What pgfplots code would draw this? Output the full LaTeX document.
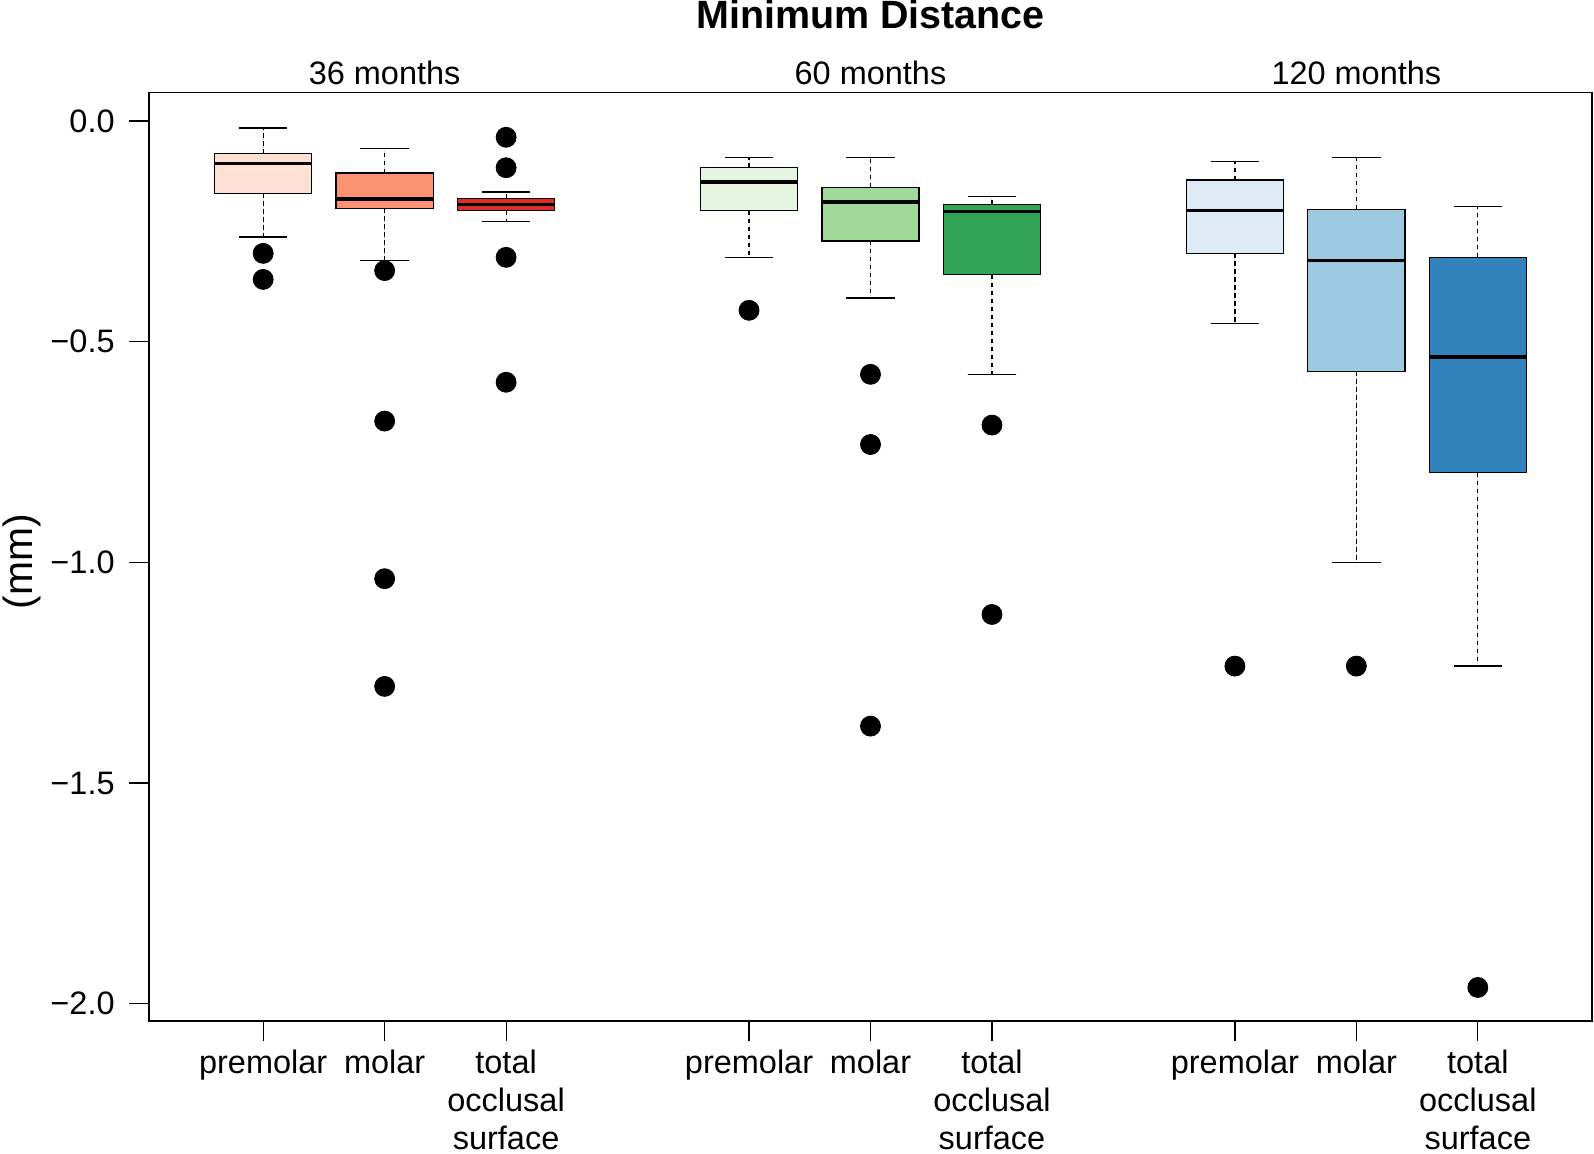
\documentclass[border=0pt]{standalone}
\usepackage{pgfplots}
\pgfplotsset{compat=1.18}
\usepgfplotslibrary{statistics}
\usepackage{fontspec}
\setmainfont{Liberation Sans}
\definecolor{r1}{HTML}{FEE0D2}\definecolor{r2}{HTML}{FC9272}\definecolor{r3}{HTML}{DE2D26}
\definecolor{g1}{HTML}{E5F5E0}\definecolor{g2}{HTML}{A1D99B}\definecolor{g3}{HTML}{31A354}
\definecolor{b1}{HTML}{DEEBF7}\definecolor{b2}{HTML}{9ECAE1}\definecolor{b3}{HTML}{3182BD}
\pgfplotsset{bx/.style={draw=black, solid, line width=0.6bp, mark=none, fill=#1}}
\begin{document}
\begin{tikzpicture}
\path[use as bounding box] (-74.5bp,-66.5bp) rectangle (722.5bp,510.5bp);
\begin{axis}[
  at={(0,0)}, anchor=south west,
  scale only axis, width=721.5bp, height=464.15bp,
  xmin=0.06, xmax=11.94, ymin=-2.039, ymax=0.064,
  clip=false,
  axis line style={line width=0.7bp},
  tick style={line width=0.6bp, black},
  tick align=outside, major tick length=10bp,
  xtick={1,2,3,5,6,7,9,10,11},
  xticklabels={premolar,molar,{total\\occlusal\\surface},premolar,molar,{total\\occlusal\\surface},premolar,molar,{total\\occlusal\\surface}},
  xticklabel style={align=center, anchor=north, inner sep=0pt, yshift=-4.5bp, font=\fontsize{16.3}{19}\selectfont},
  ytick={-2,-1.5,-1,-0.5,0},
  yticklabels={−2.0,−1.5,−1.0,−0.5,0.0},
  yticklabel style={anchor=east, inner sep=0pt, xshift=-7bp, font=\fontsize{16.3}{19}\selectfont},
  xtick pos=bottom, ytick pos=left,
  boxplot/draw direction=y,
  boxplot/box extend=0.8,
  boxplot/every median/.style={solid, line width=1.7bp},
  boxplot/draw/lower whisker/.code={%
    \draw[black, line width=0.6bp, dash pattern=on 2.2bp off 1.8bp]
      (boxplot box cs:\pgfplotsboxplotvalue{lower quartile},0.5) --
      (boxplot box cs:\pgfplotsboxplotvalue{lower whisker},0.5);
    \draw[black, line width=0.6bp, solid]
      (boxplot box cs:\pgfplotsboxplotvalue{lower whisker},0.25) --
      (boxplot box cs:\pgfplotsboxplotvalue{lower whisker},0.75);
  },
  boxplot/draw/upper whisker/.code={%
    \draw[black, line width=0.6bp, dash pattern=on 2.2bp off 1.8bp]
      (boxplot box cs:\pgfplotsboxplotvalue{upper quartile},0.5) --
      (boxplot box cs:\pgfplotsboxplotvalue{upper whisker},0.5);
    \draw[black, line width=0.6bp, solid]
      (boxplot box cs:\pgfplotsboxplotvalue{upper whisker},0.25) --
      (boxplot box cs:\pgfplotsboxplotvalue{upper whisker},0.75);
  },
]
% 36 months
\addplot+[boxplot prepared={draw position=1, upper whisker=-0.016, upper quartile=-0.074, median=-0.097, lower quartile=-0.164, lower whisker=-0.263}, bx=r1] coordinates {};
\addplot+[boxplot prepared={draw position=2, upper whisker=-0.062, upper quartile=-0.118, median=-0.177, lower quartile=-0.198, lower whisker=-0.316}, bx=r2] coordinates {};
\addplot+[boxplot prepared={draw position=3, upper whisker=-0.161, upper quartile=-0.175, median=-0.189, lower quartile=-0.203, lower whisker=-0.228}, bx=r3] coordinates {};
% 60 months
\addplot+[boxplot prepared={draw position=5, upper whisker=-0.083, upper quartile=-0.106, median=-0.138, lower quartile=-0.203, lower whisker=-0.309}, bx=g1] coordinates {};
\addplot+[boxplot prepared={draw position=6, upper whisker=-0.083, upper quartile=-0.150, median=-0.184, lower quartile=-0.272, lower whisker=-0.401}, bx=g2] coordinates {};
\addplot+[boxplot prepared={draw position=7, upper whisker=-0.171, upper quartile=-0.189, median=-0.205, lower quartile=-0.348, lower whisker=-0.574}, bx=g3] coordinates {};
% 120 months
\addplot+[boxplot prepared={draw position=9, upper whisker=-0.092, upper quartile=-0.134, median=-0.203, lower quartile=-0.300, lower whisker=-0.459}, bx=b1] coordinates {};
\addplot+[boxplot prepared={draw position=10, upper whisker=-0.083, upper quartile=-0.200, median=-0.316, lower quartile=-0.567, lower whisker=-1.000}, bx=b2] coordinates {};
\addplot+[boxplot prepared={draw position=11, upper whisker=-0.194, upper quartile=-0.309, median=-0.535, lower quartile=-0.797, lower whisker=-1.235}, bx=b3] coordinates {};
% outliers
\addplot[only marks, mark=*, mark size=5bp, black] coordinates {
 (1,-0.300) (1,-0.359)
 (2,-0.339) (2,-0.680) (2,-1.037) (2,-1.281)
 (3,-0.037) (3,-0.106) (3,-0.309) (3,-0.592)
 (5,-0.429)
 (6,-0.574) (6,-0.733) (6,-1.371)
 (7,-0.689) (7,-1.118)
 (9,-1.235)
 (10,-1.235)
 (11,-1.963)
};
\node[anchor=base, font=\fontsize{16.3}{19}\selectfont, yshift=4bp] at (axis cs:2,0.064) {36 months};
\node[anchor=base, font=\fontsize{16.3}{19}\selectfont, yshift=4bp] at (axis cs:6,0.064) {60 months};
\node[anchor=base, font=\fontsize{16.3}{19}\selectfont, yshift=4bp] at (axis cs:10,0.064) {120 months};
\node[anchor=base, font=\bfseries\fontsize{19.8}{23}\selectfont, yshift=32bp] at (rel axis cs:0.5,1) {Minimum Distance};
\node[rotate=90, font=\fontsize{20.5}{24}\selectfont] at ([xshift=-63.5bp,yshift=-2.5bp]rel axis cs:0,0.5) {(mm)};
\end{axis}
\end{tikzpicture}
\end{document}
